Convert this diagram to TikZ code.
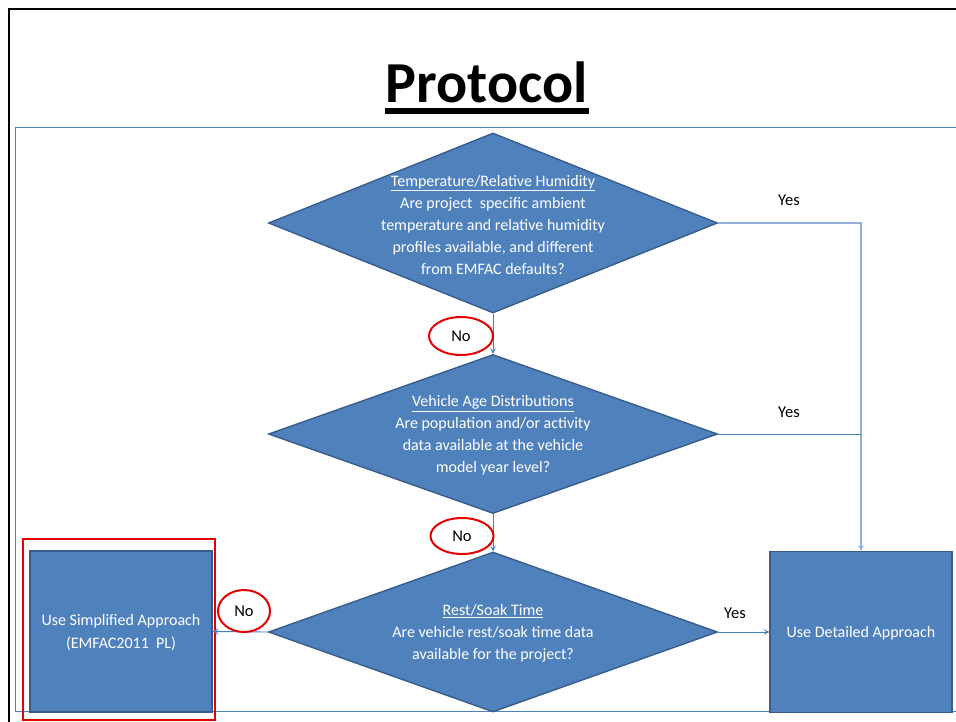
\documentclass[tikz,border=0pt]{standalone}
\usepackage{fontspec}
\setmainfont{Carlito}
\usetikzlibrary{shapes.geometric,arrows.meta,calc}
\definecolor{boxfill}{RGB}{79,129,189}
\definecolor{boxline}{RGB}{56,93,138}
\definecolor{conn}{RGB}{74,126,187}
\definecolor{connlight}{RGB}{141,176,220}
\definecolor{framecol}{RGB}{79,129,189}
\definecolor{hilite}{RGB}{230,0,0}
\tikzset{
  decision/.style={diamond, draw=boxline, fill=boxfill, line width=1.4pt, inner sep=0pt, minimum width=449pt},
  actbox/.style={rectangle, draw=boxline, fill=boxfill, line width=1.4pt, inner sep=0pt, minimum width=182pt, minimum height=161pt},
  qtext/.style={text=white, align=center, font=\fontsize{16}{22}\selectfont, inner sep=0pt},
  answer/.style={text=black, font=\fontsize{16.5}{19}\selectfont, inner sep=0pt},
  ring/.style={ellipse, draw=hilite, line width=2pt, inner sep=0pt, text=black, font=\fontsize{16.5}{19}\selectfont},
  conline/.style={draw=conn, line width=0.9pt},
  tip/.style={-{Stealth[length=6pt,width=6pt,inset=3pt]}}
}
\begin{document}
\begin{tikzpicture}[x=1pt,y=-1pt]
\useasboundingbox (0,0) rectangle (956,721);
\clip (0,0) rectangle (956,721);
\fill[white] (0,0) rectangle (956,721);
% outer black frame and inner blue frame
\draw[black, line width=2.6pt] (9,740) -- (9,9) -- (980,9);
\draw[framecol, line width=1pt] (15,127) rectangle (990,711);
% title
\node[font=\fontsize{58}{60}\selectfont\bfseries, anchor=base, inner sep=0pt] (title) at (487,102) {Protocol};
\fill[black] ($(title.base west)+(-1,6)$) rectangle ($(title.base east)+(1,11.5)$);
% decisions
\node[decision, minimum height=180pt] (d1) at (493,223) {};
\node[decision, minimum height=159pt] (d2) at (493,434) {};
\node[decision, minimum height=160pt] (d3) at (493,632) {};
\node[qtext] (t1) at (493,224.5) {\underline{Temperature/Relative Humidity}\\Are project\ \ specific ambient\\temperature and relative humidity\\profiles available, and different\\from EMFAC defaults?};
\node[qtext] (t2) at (493,435.5) {\underline{Vehicle Age Distributions}\\Are population and/or activity\\data available at the vehicle\\model year level?};
\node[qtext] (t3) at (493,633) {\underline{Rest/Soak Time}\\Are vehicle rest/soak time data\\available for the project?};
% outcome boxes
\node[actbox] (lbox) at (121,631.5) {};
\node[qtext, font=\fontsize{16}{23}\selectfont] (lt) at (121,633) {Use Simplified Approach\\(EMFAC2011\ \ PL)};
\node[actbox] (rbox) at (861,632) {};
\node[qtext] (rt) at (861,633) {Use Detailed Approach};
% highlight around simplified approach
\node[draw=hilite, line width=2pt, minimum width=192pt, minimum height=181pt, inner sep=0pt] (hl) at (119,629) {};
% connectors
\draw[conline, tip] (d1.south) -- (d2.north);
\draw[conline, tip] (d2.south) -- (d3.north);
\draw[conline, draw=connlight, line width=1.3pt, tip] (d1.east) -| (rbox.north);
\draw[conline] (d2.east) -- (d2.east -| rbox.north);
\draw[conline, tip] (d3.east) -- (rbox.west);
\draw[conline, tip] (d3.west) -- (lbox.east);
% answers
\node[answer] (y1) at (789,200) {Yes};
\node[answer] (y2) at (789,412) {Yes};
\node[answer] (y3) at (735,613) {Yes};
\node[ring, minimum width=64pt, minimum height=38pt] (n1) at (461,336) {No};
\node[ring, minimum width=63pt, minimum height=36pt] (n2) at (462,536) {No};
\node[ring, minimum width=52pt, minimum height=42pt] (n3) at (244,611) {No};
\end{tikzpicture}
\end{document}
